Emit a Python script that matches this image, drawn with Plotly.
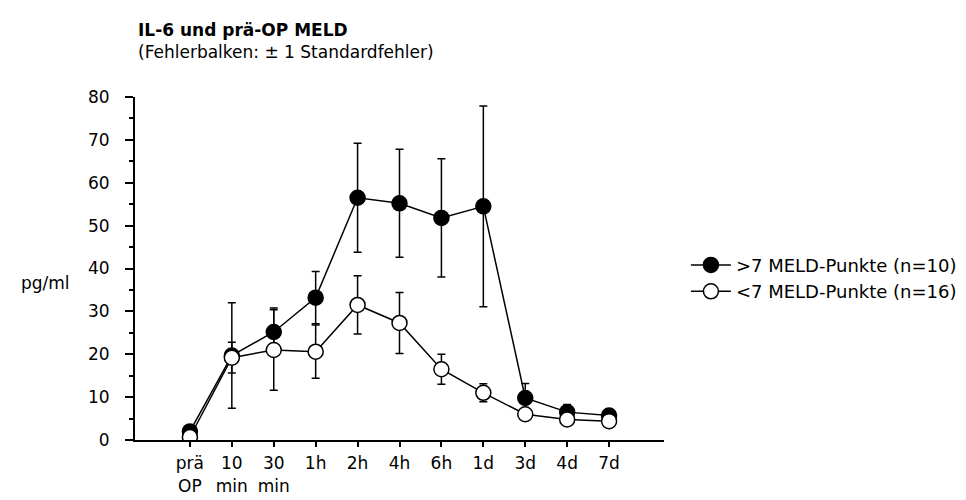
import plotly.graph_objects as go

categories = ["prä<br>OP", "10<br>min", "30<br>min", "1h", "2h", "4h", "6h", "1d", "3d", "4d", "7d"]
high_meld = [2.0, 19.7, 25.2, 33.2, 56.5, 55.2, 51.8, 54.5, 9.8, 6.5, 5.7]
high_se = [0.5, 12.3, 5.6, 6.1, 12.7, 12.6, 13.8, 23.4, 3.4, 1.8, 1.6]
low_meld = [0.7, 19.2, 21.0, 20.6, 31.5, 27.3, 16.5, 11.0, 6.0, 4.8, 4.4]
low_se = [0.3, 3.6, 9.4, 6.2, 6.8, 7.1, 3.5, 2.1, 0.9, 0.8, 0.8]

x_idx = list(range(len(categories)))
font = "DejaVu Sans, Arial, sans-serif"

# plot area in pixels
L, R, T, B = 127, 658, 89, 442
W, H = R - L, B - T


def px(x):
    return (x - L) / W


def py(y):
    return (B - y) / H


fig = go.Figure()
fig.add_trace(go.Scatter(
    x=x_idx, y=high_meld, name=">7 MELD-Punkte (n=10)",
    mode="lines+markers",
    line=dict(color="black", width=1.5),
    marker=dict(size=15, color="black", line=dict(color="black", width=1.5)),
    error_y=dict(type="data", array=high_se, visible=True, color="black", thickness=1.5, width=4),
))
fig.add_trace(go.Scatter(
    x=x_idx, y=low_meld, name="<7 MELD-Punkte (n=16)",
    mode="lines+markers",
    line=dict(color="black", width=1.5),
    marker=dict(size=15, color="white", line=dict(color="black", width=1.5)),
    error_y=dict(type="data", array=low_se, visible=True, color="black", thickness=1.5, width=4),
))

fig.update_layout(
    width=966, height=500,
    margin=dict(l=L, r=966 - R, t=T, b=500 - B, pad=0),
    paper_bgcolor="white", plot_bgcolor="white",
    font=dict(family=font, size=17, color="black"),
    showlegend=True,
    legend=dict(x=px(680), y=py(275.5), xanchor="left", yanchor="middle",
                font=dict(size=18), tracegroupgap=0, itemwidth=40),
    xaxis=dict(
        range=[-1.31, 11.31], tickvals=x_idx, ticktext=categories,
        showline=True, linecolor="black", linewidth=2,
        ticks="outside", ticklen=5, tickwidth=1.5, tickcolor="black",
        showgrid=False, zeroline=False, ticklabelstandoff=2,
    ),
    yaxis=dict(
        range=[0, 80], dtick=10, tick0=0,
        showline=True, linecolor="black", linewidth=2,
        ticks="outside", ticklen=8, tickwidth=1.5, tickcolor="black",
        minor=dict(dtick=5, ticks="outside", ticklen=4, tickwidth=1.5, tickcolor="black"),
        showgrid=False, zeroline=False, ticklabelstandoff=12,
    ),
    annotations=[
        dict(text="<b>IL-6 und prä-OP MELD</b>", x=px(128), xref="paper", y=py(20), yref="paper",
             showarrow=False, xanchor="left", yanchor="middle", font=dict(size=17)),
        dict(text="(Fehlerbalken: ± 1 Standardfehler)", x=px(128), xref="paper", y=py(43), yref="paper",
             showarrow=False, xanchor="left", yanchor="middle", font=dict(size=17)),
        dict(text="pg/ml", x=px(64), xref="paper", y=py(280), yref="paper",
             showarrow=False, xanchor="right", yanchor="middle", font=dict(size=17)),
    ],
)

fig.write_html("out.html")
